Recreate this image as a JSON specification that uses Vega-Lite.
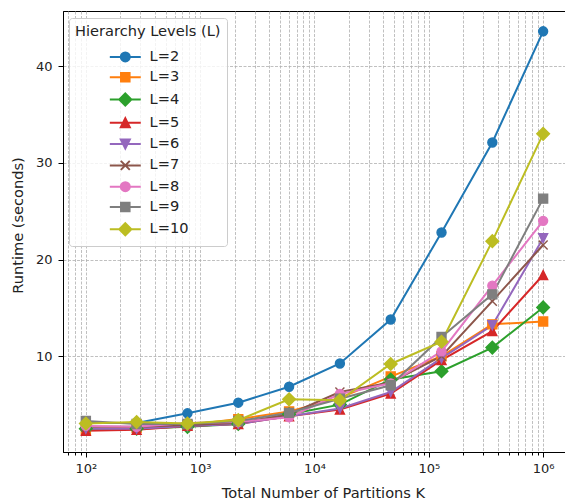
{
  "$schema": "https://vega.github.io/schema/vega-lite/v6.json",
  "width": 503,
  "height": 441,
  "autosize": {"type": "none"},
  "padding": {"left": 63, "top": 11, "right": 0, "bottom": 50},
  "config": {
    "font": "DejaVu Sans",
    "view": {"stroke": "#000000", "strokeWidth": 1},
    "axis": {
      "domainColor": "#000000",
      "tickColor": "#000000",
      "labelColor": "#222222",
      "labelFontSize": 13,
      "titleFontSize": 14.6,
      "titleFontWeight": "normal",
      "titleColor": "#222222",
      "gridColor": "#b0b0b0",
      "gridDash": [3, 1.5],
      "gridWidth": 0.8
    }
  },
  "data": {
    "values": [
      {"K": 100, "L": "L=2", "t": 3.1}, {"K": 278, "L": "L=2", "t": 3.1}, {"K": 774, "L": "L=2", "t": 4.1}, {"K": 2154, "L": "L=2", "t": 5.2}, {"K": 5995, "L": "L=2", "t": 6.85}, {"K": 16681, "L": "L=2", "t": 9.25}, {"K": 46416, "L": "L=2", "t": 13.8}, {"K": 129155, "L": "L=2", "t": 22.8}, {"K": 359381, "L": "L=2", "t": 32.1}, {"K": 1000000, "L": "L=2", "t": 43.6},
      {"K": 100, "L": "L=3", "t": 2.4}, {"K": 278, "L": "L=3", "t": 2.6}, {"K": 774, "L": "L=3", "t": 2.9}, {"K": 2154, "L": "L=3", "t": 3.5}, {"K": 5995, "L": "L=3", "t": 4.3}, {"K": 16681, "L": "L=3", "t": 5.7}, {"K": 46416, "L": "L=3", "t": 7.9}, {"K": 129155, "L": "L=3", "t": 10.0}, {"K": 359381, "L": "L=3", "t": 13.3}, {"K": 1000000, "L": "L=3", "t": 13.6},
      {"K": 100, "L": "L=4", "t": 2.5}, {"K": 278, "L": "L=4", "t": 2.5}, {"K": 774, "L": "L=4", "t": 2.7}, {"K": 2154, "L": "L=4", "t": 3.0}, {"K": 5995, "L": "L=4", "t": 4.0}, {"K": 16681, "L": "L=4", "t": 5.0}, {"K": 46416, "L": "L=4", "t": 7.6}, {"K": 129155, "L": "L=4", "t": 8.45}, {"K": 359381, "L": "L=4", "t": 10.9}, {"K": 1000000, "L": "L=4", "t": 15.05},
      {"K": 100, "L": "L=5", "t": 2.3}, {"K": 278, "L": "L=5", "t": 2.4}, {"K": 774, "L": "L=5", "t": 2.8}, {"K": 2154, "L": "L=5", "t": 3.0}, {"K": 5995, "L": "L=5", "t": 3.8}, {"K": 16681, "L": "L=5", "t": 4.5}, {"K": 46416, "L": "L=5", "t": 6.15}, {"K": 129155, "L": "L=5", "t": 9.6}, {"K": 359381, "L": "L=5", "t": 12.6}, {"K": 1000000, "L": "L=5", "t": 18.4},
      {"K": 100, "L": "L=6", "t": 2.5}, {"K": 278, "L": "L=6", "t": 2.5}, {"K": 774, "L": "L=6", "t": 2.8}, {"K": 2154, "L": "L=6", "t": 3.0}, {"K": 5995, "L": "L=6", "t": 3.8}, {"K": 16681, "L": "L=6", "t": 4.6}, {"K": 46416, "L": "L=6", "t": 6.3}, {"K": 129155, "L": "L=6", "t": 9.8}, {"K": 359381, "L": "L=6", "t": 13.2}, {"K": 1000000, "L": "L=6", "t": 22.2},
      {"K": 100, "L": "L=7", "t": 2.7}, {"K": 278, "L": "L=7", "t": 2.7}, {"K": 774, "L": "L=7", "t": 2.9}, {"K": 2154, "L": "L=7", "t": 3.1}, {"K": 5995, "L": "L=7", "t": 4.0}, {"K": 16681, "L": "L=7", "t": 6.3}, {"K": 46416, "L": "L=7", "t": 7.3}, {"K": 129155, "L": "L=7", "t": 10.0}, {"K": 359381, "L": "L=7", "t": 15.7}, {"K": 1000000, "L": "L=7", "t": 21.5},
      {"K": 100, "L": "L=8", "t": 2.8}, {"K": 278, "L": "L=8", "t": 2.7}, {"K": 774, "L": "L=8", "t": 3.1}, {"K": 2154, "L": "L=8", "t": 3.2}, {"K": 5995, "L": "L=8", "t": 3.7}, {"K": 16681, "L": "L=8", "t": 6.1}, {"K": 46416, "L": "L=8", "t": 7.2}, {"K": 129155, "L": "L=8", "t": 10.5}, {"K": 359381, "L": "L=8", "t": 17.3}, {"K": 1000000, "L": "L=8", "t": 24.0},
      {"K": 100, "L": "L=9", "t": 3.3}, {"K": 278, "L": "L=9", "t": 3.0}, {"K": 774, "L": "L=9", "t": 3.0}, {"K": 2154, "L": "L=9", "t": 3.3}, {"K": 5995, "L": "L=9", "t": 4.15}, {"K": 16681, "L": "L=9", "t": 5.6}, {"K": 46416, "L": "L=9", "t": 7.0}, {"K": 129155, "L": "L=9", "t": 12.0}, {"K": 359381, "L": "L=9", "t": 16.4}, {"K": 1000000, "L": "L=9", "t": 26.3},
      {"K": 100, "L": "L=10", "t": 3.05}, {"K": 278, "L": "L=10", "t": 3.2}, {"K": 774, "L": "L=10", "t": 3.05}, {"K": 2154, "L": "L=10", "t": 3.4}, {"K": 5995, "L": "L=10", "t": 5.55}, {"K": 16681, "L": "L=10", "t": 5.45}, {"K": 46416, "L": "L=10", "t": 9.2}, {"K": 129155, "L": "L=10", "t": 11.5}, {"K": 359381, "L": "L=10", "t": 21.9}, {"K": 1000000, "L": "L=10", "t": 33.0}
    ]
  },
  "encoding": {
    "x": {
      "field": "K", "type": "quantitative",
      "scale": {"type": "log", "domain": [63.1, 1584893], "nice": false},
      "axis": {
        "title": "Total Number of Partitions K",
        "titleX": 260,
        "titleY": 45,
        "titleAlign": "center",
        "titleBaseline": "alphabetic",
        "values": [70, 80, 90, 100, 200, 300, 400, 500, 600, 700, 800, 900, 1000, 2000, 3000, 4000, 5000, 6000, 7000, 8000, 9000, 10000, 20000, 30000, 40000, 50000, 60000, 70000, 80000, 90000, 100000, 200000, 300000, 400000, 500000, 600000, 700000, 800000, 900000, 1000000],
        "labelExpr": "datum.value == 100 ? '10²' : datum.value == 1000 ? '10³' : datum.value == 10000 ? '10⁴' : datum.value == 100000 ? '10⁵' : datum.value == 1000000 ? '10⁶' : ''",
        "labelOverlap": false,
        "labelFlush": false,
        "labelPadding": 5,
        "tickSize": {"condition": {"test": "indexof([100, 1000, 10000, 100000, 1000000], datum.value) >= 0", "value": 5}, "value": 3}
      }
    },
    "y": {
      "field": "t", "type": "quantitative",
      "scale": {"domain": [0.1, 45.7], "nice": false, "zero": false},
      "axis": {
        "title": "Runtime (seconds)",
        "values": [10, 20, 30, 40],
        "tickSize": 5,
        "labelPadding": 6,
        "titleX": -45,
        "titleY": 214,
        "titleAlign": "center",
        "titleBaseline": "middle"
      }
    }
  },
  "layer": [
    {
      "mark": {"type": "line", "strokeWidth": 2},
      "encoding": {
        "color": {
          "field": "L", "type": "nominal",
          "scale": {
            "domain": ["L=2", "L=3", "L=4", "L=5", "L=6", "L=7", "L=8", "L=9", "L=10"],
            "range": ["#1f77b4", "#ff7f0e", "#2ca02c", "#d62728", "#9467bd", "#8c564b", "#e377c2", "#7f7f7f", "#bcbd22"]
          },
          "legend": null
        }
      }
    },
    {
      "mark": {"type": "point", "filled": true, "size": 81, "strokeWidth": 1.4, "opacity": 1},
      "encoding": {
        "color": {
          "field": "L", "type": "nominal",
          "scale": {
            "domain": ["L=2", "L=3", "L=4", "L=5", "L=6", "L=7", "L=8", "L=9", "L=10"],
            "range": ["#1f77b4", "#ff7f0e", "#2ca02c", "#d62728", "#9467bd", "#8c564b", "#e377c2", "#7f7f7f", "#bcbd22"]
          },
          "legend": null
        },
        "shape": {
          "field": "L", "type": "nominal",
          "scale": {
            "domain": ["L=2", "L=3", "L=4", "L=5", "L=6", "L=7", "L=8", "L=9", "L=10"],
            "range": ["circle", "square", "M0,-1.41L1.41,0L0,1.41L-1.41,0Z", "M0,-1L1,1L-1,1Z", "M0,1L1,-1L-1,-1Z", "M-1,-1L1,1M-1,1L1,-1", "circle", "square", "M0,-1.41L1.41,0L0,1.41L-1.41,0Z"]
          },
          "legend": null
        },
        "stroke": {
          "field": "L", "type": "nominal",
          "scale": {
            "domain": ["L=2", "L=3", "L=4", "L=5", "L=6", "L=7", "L=8", "L=9", "L=10"],
            "range": ["#1f77b4", "#ff7f0e", "#2ca02c", "#d62728", "#9467bd", "#8c564b", "#e377c2", "#7f7f7f", "#bcbd22"]
          },
          "legend": null
        }
      }
    },
    {
      "transform": [{"filter": "datum.t < 0"}],
      "mark": {"type": "point", "filled": true, "size": 81, "strokeWidth": 2, "opacity": 1},
      "encoding": {
        "fill": {
          "field": "L", "type": "nominal",
          "scale": {
            "domain": ["L=2", "L=3", "L=4", "L=5", "L=6", "L=7", "L=8", "L=9", "L=10"],
            "range": ["#1f77b4", "#ff7f0e", "#2ca02c", "#d62728", "#9467bd", "#8c564b", "#e377c2", "#7f7f7f", "#bcbd22"]
          },
          "legend": {
            "title": "Hierarchy Levels (L)",
            "orient": "none",
            "legendX": 6,
            "legendY": 7,
            "padding": 6,
            "fillColor": "rgba(255,255,255,0.8)",
            "strokeColor": "#cccccc",
            "cornerRadius": 3,
            "titleFontSize": 14.6,
            "titleFontWeight": "normal",
            "titleColor": "#222222",
            "labelFontSize": 14.6,
            "labelColor": "#222222",
            "symbolSize": 81,
            "symbolStrokeWidth": 2,
            "symbolOffset": 43,
            "labelOffset": 17,
            "rowPadding": 3.3,
            "titlePadding": 11
          }
        },
        "stroke": {
          "field": "L", "type": "nominal",
          "scale": {
            "domain": ["L=2", "L=3", "L=4", "L=5", "L=6", "L=7", "L=8", "L=9", "L=10"],
            "range": ["#1f77b4", "#ff7f0e", "#2ca02c", "#d62728", "#9467bd", "#8c564b", "#e377c2", "#7f7f7f", "#bcbd22"]
          },
          "legend": {
            "title": "Hierarchy Levels (L)",
            "orient": "none",
            "legendX": 6,
            "legendY": 7
          }
        },
        "shape": {
          "field": "L", "type": "nominal",
          "scale": {
            "domain": ["L=2", "L=3", "L=4", "L=5", "L=6", "L=7", "L=8", "L=9", "L=10"],
            "range": [
              "M-3.44,0H3.44M-1,0A1,1 0 1,0 1,0A1,1 0 1,0 -1,0Z",
              "M-3.44,0H3.44M-0.95,-0.95H0.95V0.95H-0.95Z",
              "M-3.44,0H3.44M0,-1.35L1.35,0L0,1.35L-1.35,0Z",
              "M-3.44,0H3.44M0,-1L1,1L-1,1Z",
              "M-3.44,0H3.44M0,1L1,-1L-1,-1Z",
              "M-3.44,0H3.44M-1,-1L1,1M-1,1L1,-1",
              "M-3.44,0H3.44M-1,0A1,1 0 1,0 1,0A1,1 0 1,0 -1,0Z",
              "M-3.44,0H3.44M-0.95,-0.95H0.95V0.95H-0.95Z",
              "M-3.44,0H3.44M0,-1.35L1.35,0L0,1.35L-1.35,0Z"
            ]
          },
          "legend": {
            "title": "Hierarchy Levels (L)",
            "orient": "none",
            "legendX": 6,
            "legendY": 7
          }
        }
      }
    }
  ],
  "resolve": {"scale": {"shape": "independent", "stroke": "independent", "fill": "independent"}}
}
